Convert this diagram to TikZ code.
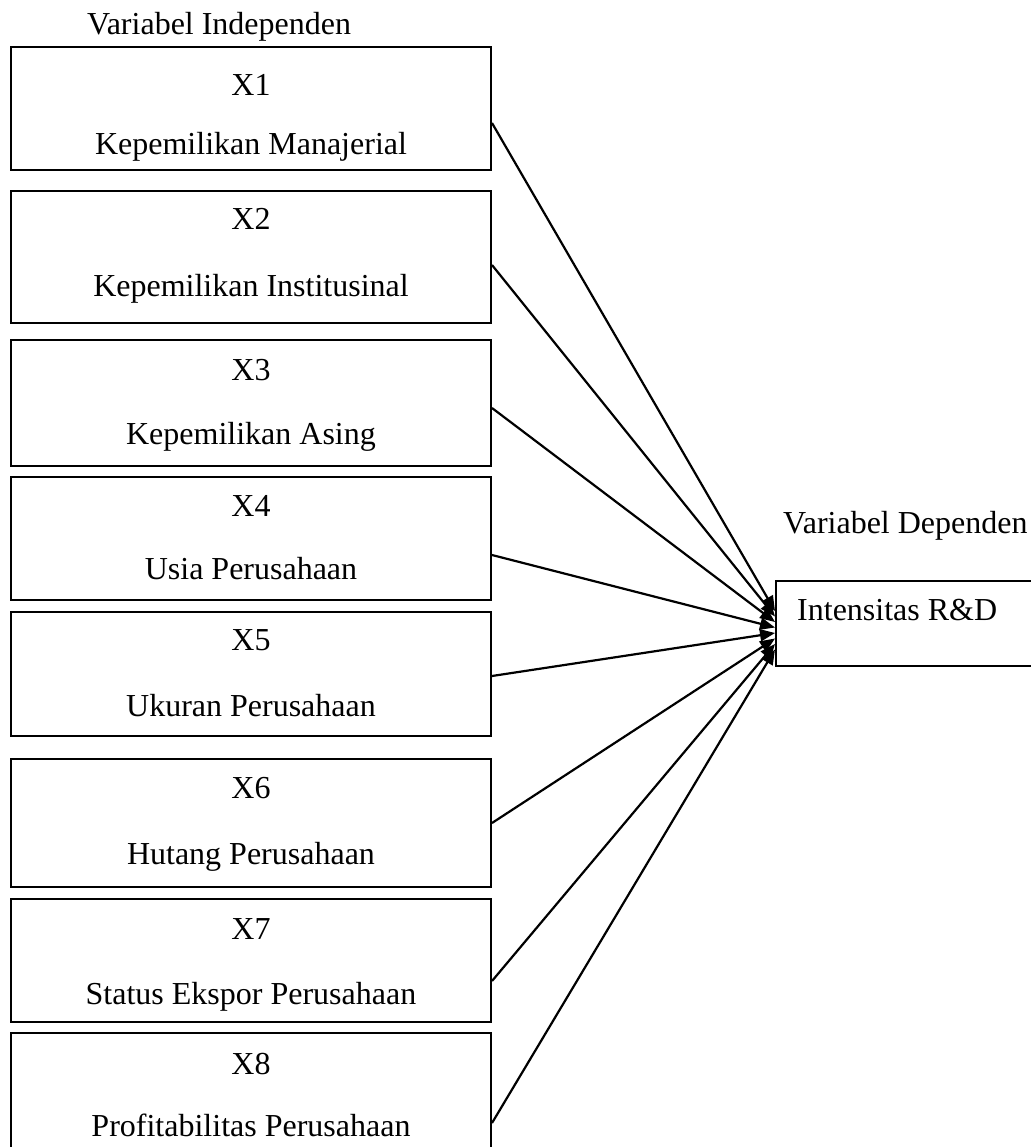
\documentclass[tikz,border=0pt]{standalone}
\usepackage{fontspec}
\setmainfont{Liberation Serif}
\usetikzlibrary{arrows.meta,positioning}

\begin{document}
\begin{tikzpicture}[
    x=1pt, y=-1pt,
    varbox/.style={rectangle, draw=black, line width=2pt, minimum width=480pt, inner sep=0pt},
    depbox/.style={rectangle, draw=black, line width=2pt, minimum width=284pt, minimum height=85pt, inner sep=0pt},
    lbl/.style={font=\fontsize{32}{38}\selectfont, anchor=base, inner sep=0pt},
    arrow/.style={-{Triangle[length=15pt, width=12pt]}, line width=2.2pt, draw=black}
]
    \useasboundingbox (0,0) rectangle (1030,1147);

    % variabel independen
    \node [lbl, anchor=base west] (indep) at (87,35) {Variabel Independen};

    \node [varbox, minimum height=123pt] (x1) at (251,108.5) {};
    \node [lbl] (t1) at ([yshift=-50pt]x1.north) {X1};
    \node [lbl] (n1) at ([yshift=16pt]x1.south) {Kepemilikan Manajerial};

    \node [varbox, minimum height=132pt] (x2) at (251,257) {};
    \node [lbl] (t2) at ([yshift=-40pt]x2.north) {X2};
    \node [lbl] (n2) at ([yshift=28pt]x2.south) {Kepemilikan Institusinal};

    \node [varbox, minimum height=126pt] (x3) at (251,403) {};
    \node [lbl] (t3) at ([yshift=-41pt]x3.north) {X3};
    \node [lbl] (n3) at ([yshift=23pt]x3.south) {Kepemilikan Asing};

    \node [varbox, minimum height=123pt] (x4) at (251,538.5) {};
    \node [lbl] (t4) at ([yshift=-40pt]x4.north) {X4};
    \node [lbl] (n4) at ([yshift=22pt]x4.south) {Usia Perusahaan};

    \node [varbox, minimum height=124pt] (x5) at (251,674) {};
    \node [lbl] (t5) at ([yshift=-39pt]x5.north) {X5};
    \node [lbl] (n5) at ([yshift=21pt]x5.south) {Ukuran Perusahaan};

    \node [varbox, minimum height=128pt] (x6) at (251,823) {};
    \node [lbl] (t6) at ([yshift=-40pt]x6.north) {X6};
    \node [lbl] (n6) at ([yshift=24pt]x6.south) {Hutang Perusahaan};

    \node [varbox, minimum height=123pt] (x7) at (251,960.5) {};
    \node [lbl] (t7) at ([yshift=-41pt]x7.north) {X7};
    \node [lbl] (n7) at ([yshift=19pt]x7.south) {Status Ekspor Perusahaan};

    \node [varbox, minimum height=147pt] (x8) at (251,1106.5) {};
    \node [lbl] (t8) at ([yshift=-42pt]x8.north) {X8};
    \node [lbl] (n8) at ([yshift=-104pt]x8.north) {Profitabilitas Perusahaan};

    % variabel dependen
    \node [lbl, anchor=base west] (dep) at (783,533) {Variabel Dependen};
    \node [depbox] (y) at (918,623.5) {};
    \node [lbl, anchor=base west] (ny) at (797,620) {Intensitas R\&D};

    \draw [arrow] ([yshift=-14.5pt]x1.east) -- ([yshift=12.5pt]y.west);
    \draw [arrow] ([yshift=-8pt]x2.east) -- ([yshift=7pt]y.west);
    \draw [arrow] ([yshift=-5pt]x3.east) -- ([yshift=1.5pt]y.west);
    \draw [arrow] ([yshift=-16.5pt]x4.east) -- ([yshift=-4pt]y.west);
    \draw [arrow] ([yshift=-2pt]x5.east) -- ([yshift=-9.5pt]y.west);
    \draw [arrow] (x6.east) -- ([yshift=-15pt]y.west);
    \draw [arrow] ([yshift=-20.5pt]x7.east) -- ([yshift=-20.5pt]y.west);
    \draw [arrow] ([yshift=-16.5pt]x8.east) -- ([yshift=-26pt]y.west);
\end{tikzpicture}
\end{document}
